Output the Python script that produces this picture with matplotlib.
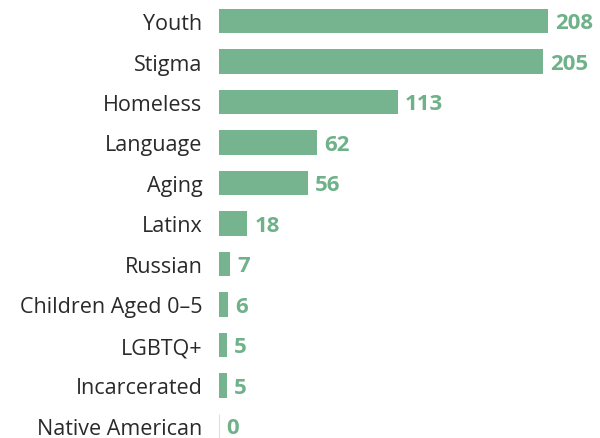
import matplotlib
matplotlib.use("Agg")
import matplotlib.pyplot as plt
import numpy as np

# categories and counts, top to bottom
categories = ["Youth", "Stigma", "Homeless", "Language", "Aging", "Latinx",
              "Russian", "Children Aged 0\u20135", "LGBTQ+", "Incarcerated",
              "Native American"]
counts = [208, 205, 113, 62, 56, 18, 7, 6, 5, 5, 0]

bar_color = "#76b38f"
label_color = "#6fb28a"

plt.rcParams['font.family'] = ['Open Sans', 'DejaVu Sans']

fig = plt.figure(figsize=(6, 4.39), dpi=100)
ax = fig.add_axes([219 / 600, 0, 381 / 600, 1])

ypos = np.arange(len(categories))
ax.barh(ypos, counts, height=0.6, color=bar_color, linewidth=0)
# zero-valued rows still show a faint hairline
zero = [c == 0 for c in counts]
ax.barh(ypos[zero], np.array(counts)[zero], height=0.6, color="none",
        edgecolor="#cfe6d8", linewidth=0.8)

for y, v in zip(ypos, counts):
    ax.text(v + 4.5, y + 0.04, str(v), va="center", ha="left",
            fontsize=16, fontweight="bold", color=label_color)

ax.set_xlim(0, 381 / 1.582)
ax.set_ylim(417 / 40.5, -22 / 40.5)
ax.set_yticks(ypos)
ax.set_yticklabels(categories, fontsize=15.5, color="#2a2a2a")
ax.tick_params(axis="y", length=0, pad=12)
ax.set_xticks([])
for s in ax.spines.values():
    s.set_visible(False)

fig.savefig("out.png", dpi=100)
